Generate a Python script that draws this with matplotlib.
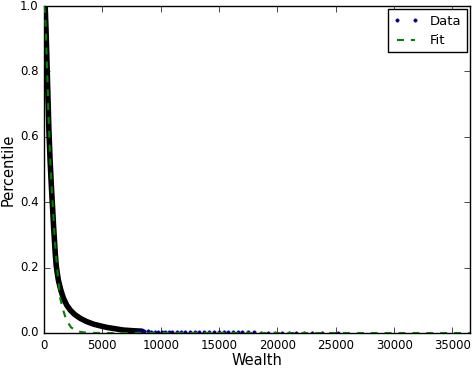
import matplotlib
matplotlib.use("Agg")
import matplotlib.pyplot as plt

# dense part of the data
data_wealth = [100, 180, 260, 340, 420, 520, 630, 740, 830, 900, 960, 1050, 1150, 1240, 1450,
               1670, 1950, 2250, 2650, 3100, 3650, 4250, 4800, 5400, 6100, 6800, 7600, 8400]
data_pct = [1.0, 0.92, 0.82, 0.72, 0.62, 0.53, 0.45, 0.38, 0.32, 0.28, 0.245, 0.205, 0.18,
            0.16, 0.13, 0.106, 0.085, 0.070, 0.056, 0.045, 0.035, 0.027, 0.022, 0.017,
            0.013, 0.009, 0.007, 0.0055]

# sparse tail of the data
tail_wealth = [8000, 8300, 8600, 8900, 9200, 9500, 9800, 10100, 10400, 10700, 11000, 11400,
               11700, 12100, 12500, 12900, 13300, 13700, 14100, 14600, 15000, 15400, 15800,
               16200, 16600, 17000, 17500, 18000, 18600, 19200, 19800, 20400, 21000, 21600,
               22300, 23000, 23800, 25200]
tail_pct = [0.006, 0.0055, 0.005, 0.0048, 0.0045, 0.0042, 0.004, 0.0039, 0.0038, 0.0036,
            0.0035, 0.0032, 0.003, 0.0029, 0.0028, 0.0027, 0.0026, 0.0025, 0.0024, 0.0023,
            0.0022, 0.0021, 0.002, 0.002, 0.0019, 0.0018, 0.0017, 0.0016, 0.0015, 0.0014,
            0.0013, 0.0012, 0.0011, 0.001, 0.0009, 0.0008, 0.0007, 0.0005]

# fitted curve
fit_wealth = [0, 100, 200, 300, 400, 500, 600, 700, 800, 900, 1000, 1200, 1400, 1600,
              1800, 2000, 2300, 2600, 3000, 3500, 4000, 5000, 10000, 20000, 36500]
fit_pct = [1.0, 0.97, 0.88, 0.77, 0.65, 0.56, 0.48, 0.42, 0.36, 0.30, 0.25, 0.17, 0.105,
           0.075, 0.052, 0.035, 0.018, 0.010, 0.004, 0.0015, 0.0005, 0.0001, 0, 0, 0]

plt.style.use('classic')
fig = plt.figure(figsize=(4.73, 3.68), dpi=100, facecolor='white')
ax = fig.add_axes([44 / 473, 35 / 368, 426 / 473, 327 / 368])

# the many overlapping dots look like one thick black band
ax.plot(data_wealth, data_pct, color='k', lw=4, solid_capstyle='round', zorder=2)
ax.plot(tail_wealth, tail_pct, '.', color='navy', mec='navy', mew=0.3, ms=5, label='Data', zorder=2)
ax.plot(fit_wealth, fit_pct, '--', color='g', lw=1.5, dashes=(5, 5), label='Fit', zorder=3)

ax.set_xlim(0, 36500)
ax.set_ylim(0, 1.0)
ax.set_xticks(range(0, 36000, 5000))
ax.set_yticks([0.0, 0.2, 0.4, 0.6, 0.8, 1.0])
ax.tick_params(labelsize=8.5, pad=4)
ax.set_xlabel('Wealth', fontsize=10.5, labelpad=1)
ax.set_ylabel('Percentile', fontsize=10.5, labelpad=3)

ax.legend(loc='upper right', fontsize=9.5, numpoints=2, borderaxespad=0.25, handlelength=2)

fig.savefig('out.png', dpi=100, facecolor='white')
